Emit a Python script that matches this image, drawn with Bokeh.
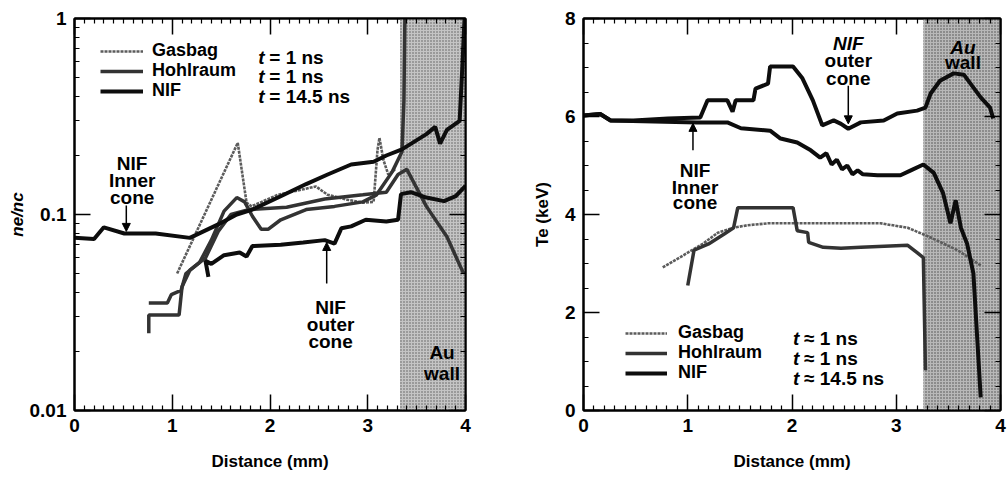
from bokeh.plotting import figure
from bokeh.layouts import row
from bokeh.models import (FixedTicker, LinearAxis, LogAxis, BoxAnnotation, Label,
                          Arrow, NormalHead, CustomJSTickFormatter, Legend, LegendItem)
from bokeh.embed import file_html
from bokeh.resources import INLINE

FONT = "Liberation Sans"

# ---------------- data: left panel (n_e / n_c) ----------------
ne_inner_x = [0.0, 0.2, 0.3, 0.51, 0.83, 1.18, 1.47, 1.66, 1.82, 2.11, 2.37, 2.59, 2.83, 3.06, 3.19, 3.35, 3.6, 3.69, 3.74, 3.81, 3.94, 3.97, 3.99]
ne_inner_y = [0.076, 0.075, 0.086, 0.080, 0.080, 0.076, 0.089, 0.100, 0.106, 0.124, 0.143, 0.160, 0.180, 0.186, 0.200, 0.215, 0.257, 0.280, 0.230, 0.270, 0.300, 0.600, 1.0]

ne_outer_x = [1.37, 1.34, 1.40, 1.53, 1.69, 1.76, 1.82, 2.11, 2.34, 2.56, 2.66, 2.73, 2.83, 2.98, 3.19, 3.31, 3.34, 3.44, 3.6, 3.78, 3.9, 4.0]
ne_outer_y = [0.048, 0.058, 0.056, 0.062, 0.064, 0.061, 0.069, 0.070, 0.072, 0.074, 0.071, 0.085, 0.087, 0.094, 0.092, 0.094, 0.127, 0.130, 0.122, 0.117, 0.124, 0.14]

ne_gas_x = [1.05, 1.67, 1.76, 1.81, 2.08, 2.47, 2.59, 2.79, 2.95, 3.06, 3.10, 3.12, 3.16, 3.21, 3.28]
ne_gas_y = [0.050, 0.232, 0.115, 0.110, 0.126, 0.139, 0.126, 0.119, 0.115, 0.116, 0.214, 0.246, 0.190, 0.160, 0.170]

ne_hohl_a_x = [0.76, 0.95, 0.99, 1.09, 1.14, 1.28, 1.40, 1.53, 1.66, 1.74, 1.82, 1.91, 1.98, 2.11, 2.37, 2.66, 2.95, 3.09, 3.25, 3.35, 3.37, 3.38]
ne_hohl_a_y = [0.0354, 0.0354, 0.039, 0.041, 0.050, 0.057, 0.074, 0.104, 0.122, 0.116, 0.098, 0.084, 0.084, 0.094, 0.106, 0.110, 0.116, 0.126, 0.165, 0.209, 0.38, 1.0]

ne_hohl_b_x = [0.76, 0.76, 1.07, 1.10, 1.18, 1.34, 1.47, 1.60, 1.79, 2.17, 2.56, 2.95, 3.19, 3.31, 3.40, 3.60, 3.81, 3.98]
ne_hohl_b_y = [0.0248, 0.0307, 0.0307, 0.0428, 0.052, 0.060, 0.082, 0.100, 0.106, 0.109, 0.120, 0.126, 0.130, 0.160, 0.170, 0.110, 0.077, 0.050]

# ---------------- data: right panel (T_e) ----------------
te_outer_x = [0.0, 0.16, 0.26, 0.48, 0.81, 1.12, 1.19, 1.38, 1.43, 1.46, 1.63, 1.65, 1.77, 1.79, 2.01, 2.10, 2.20, 2.29, 2.40, 2.47, 2.54, 2.66, 2.88, 3.01, 3.20, 3.28, 3.33, 3.42, 3.55, 3.65, 3.81, 3.90, 3.93]
te_outer_y = [6.02, 6.05, 5.92, 5.92, 5.96, 5.98, 6.33, 6.33, 6.10, 6.33, 6.33, 6.57, 6.67, 7.02, 7.02, 6.78, 6.33, 5.82, 5.92, 5.85, 5.75, 5.88, 5.92, 6.06, 6.12, 6.18, 6.47, 6.73, 6.88, 6.85, 6.39, 6.18, 5.96]

te_inner_x = [0.0, 0.16, 0.26, 1.09, 1.38, 1.51, 1.79, 1.89, 2.05, 2.18, 2.27, 2.33, 2.38, 2.43, 2.48, 2.53, 2.58, 2.63, 2.68, 2.82, 3.04, 3.14, 3.26, 3.36, 3.45, 3.52, 3.57, 3.62, 3.68, 3.74, 3.81]
te_inner_y = [6.02, 6.05, 5.92, 5.88, 5.88, 5.76, 5.71, 5.55, 5.47, 5.31, 5.16, 5.25, 5.02, 5.12, 4.92, 5.00, 4.82, 4.90, 4.82, 4.80, 4.80, 4.90, 5.02, 4.85, 4.43, 3.82, 4.29, 3.73, 3.40, 2.80, 0.27]

te_hohl_x = [1.00, 1.06, 1.20, 1.35, 1.44, 1.48, 2.01, 2.05, 2.15, 2.16, 2.30, 2.47, 2.66, 3.11, 3.20, 3.26, 3.28]
te_hohl_y = [2.55, 3.27, 3.40, 3.60, 3.73, 4.14, 4.14, 3.67, 3.63, 3.43, 3.33, 3.31, 3.33, 3.37, 3.22, 3.12, 0.82]

te_gas_x = [0.76, 1.00, 1.15, 1.29, 1.44, 1.57, 1.77, 2.01, 2.66, 2.85, 3.11, 3.33, 3.59, 3.81]
te_gas_y = [2.92, 3.22, 3.41, 3.63, 3.73, 3.78, 3.82, 3.82, 3.82, 3.82, 3.73, 3.53, 3.27, 2.96]

wall_left_ne = 3.33
wall_left_te = 3.26

x_major = [0, 1, 2, 3, 4]
x_minor = [i / 10 for i in range(41) if i % 10]
ne_major = [0.01, 0.1, 1]
ne_minor = [m * d for d in (0.01, 0.1) for m in range(2, 10)]
te_major = [0, 2, 4, 6, 8]
te_minor = [i / 2 for i in range(17) if i % 4]

series_names = ["Gasbag", "Hohlraum", "NIF"]
series_times = ["= 1 ns", "= 1 ns", "= 14.5 ns"]
series_times_te = ["\u2248 1 ns", "\u2248 1 ns", "\u2248 14.5 ns"]

GAS = dict(line_color="#5c5c5c", line_width=2.6, line_dash="3 1")
HOH = dict(line_color="#333333", line_width=3.5)
NIF = dict(line_color="#0d0d0d", line_width=4)


def base(log, y_range, fw, mbl, mbr):
    kw = dict(x_range=(0, 4), y_range=y_range, frame_width=fw, frame_height=392,
              min_border_left=mbl, min_border_right=mbr, min_border_top=18,
              min_border_bottom=68, output_backend="svg", toolbar_location=None,
              background_fill_color="white", border_fill_color="white")
    if log:
        kw["y_axis_type"] = "log"
    p = figure(**kw)
    p.grid.grid_line_color = None
    p.outline_line_color = "black"
    p.outline_line_width = 2
    return p


def style_axis(ax, ticker, labels=True):
    ax.ticker = ticker
    ax.axis_line_width = 2
    ax.axis_line_color = "black"
    ax.major_tick_in = 16
    ax.major_tick_out = 0
    ax.minor_tick_in = 5
    ax.minor_tick_out = 0
    ax.major_tick_line_width = 1.5
    ax.minor_tick_line_width = 1.2
    ax.major_label_text_font = FONT
    ax.major_label_text_font_style = "bold"
    ax.major_label_text_color = "black"
    ax.major_label_text_font_size = "19px"
    ax.major_label_standoff = 8
    if not labels:
        ax.major_label_text_font_size = "2px"
        ax.major_label_text_alpha = 0
        ax.major_label_standoff = 0


def lab(p, x, y, text, size="19px", style="bold", align="center", x_offset=0):
    p.add_layout(Label(x=x, y=y, x_offset=x_offset, text=text, text_font=FONT,
                       text_font_style=style, text_font_size=size, text_align=align,
                       text_baseline="alphabetic", text_color="black"))


def arrow(p, x, y0, y1):
    p.add_layout(Arrow(end=NormalHead(size=8, fill_color="black", line_color="black"),
                       x_start=x, y_start=y0, x_end=x, y_end=y1,
                       line_width=1.5, line_color="black"))


def legend_row(p, name, renderer, loc, gw, standoff):
    p.add_layout(Legend(items=[LegendItem(label=name, renderers=[renderer])],
                        location=loc, glyph_width=gw, glyph_height=18, label_height=18,
                        label_standoff=standoff, spacing=0, padding=0, margin=0,
                        label_text_font=FONT, label_text_font_style="bold",
                        label_text_font_size="18px", label_text_color="black",
                        background_fill_alpha=0, border_line_color=None), "center")


xt = FixedTicker(ticks=x_major, minor_ticks=x_minor)

# ================= left panel =================
p1 = base(True, (0.01, 1), 391, 74, 33)
p1.add_layout(BoxAnnotation(left=wall_left_ne, right=4, fill_color="#c4c4c4", fill_alpha=1,
                            hatch_pattern="dot", hatch_color="#5a5a5a", hatch_scale=3,
                            hatch_weight=1, line_color=None, level="underlay"))
yt1 = FixedTicker(ticks=ne_major, minor_ticks=ne_minor)
xb1 = p1.below[0]
yl1 = p1.left[0]
style_axis(xb1, xt)
style_axis(yl1, yt1)
yl1.formatter = CustomJSTickFormatter(code="return tick.toString()")
xa1 = LinearAxis()
yr1 = LogAxis()
style_axis(xa1, xt, labels=False)
style_axis(yr1, yt1, labels=False)
p1.add_layout(xa1, "above")
p1.add_layout(yr1, "right")

for ax in (xb1, yl1):
    ax.axis_label_text_font = FONT
    ax.axis_label_text_font_size = "17px"
    ax.axis_label_text_color = "black"
xb1.axis_label = "Distance (mm)"
xb1.axis_label_text_font_style = "bold"
xb1.axis_label_standoff = 17
yl1.axis_label = "ne/nc"
yl1.axis_label_text_font_style = "bold italic"
yl1.axis_label_standoff = 0

r_gas1 = p1.line(ne_gas_x, ne_gas_y, **GAS)
r_hoa = p1.line(ne_hohl_a_x, ne_hohl_a_y, **HOH)
r_hob = p1.line(ne_hohl_b_x, ne_hohl_b_y, **HOH)
r_out1 = p1.line(ne_outer_x, ne_outer_y, **NIF)
r_inn1 = p1.line(ne_inner_x, ne_inner_y, **NIF)

for name, r, ly in zip(series_names, [r_gas1, r_hoa, r_inn1], [349, 329, 309]):
    legend_row(p1, name, r, (26, ly), 43, 9)
for yv, t in zip([0.63, 0.503, 0.398], series_times):
    lab(p1, 1.88, yv, "t", size="19px", style="bold italic", align="left")
    lab(p1, 1.88, yv, t, size="19px", align="left", x_offset=11)

lab(p1, 0.59, 0.182, "NIF")
lab(p1, 0.59, 0.149, "Inner")
lab(p1, 0.59, 0.122, "cone")
arrow(p1, 0.53, 0.111, 0.082)
lab(p1, 2.62, 0.0336, "NIF")
lab(p1, 2.62, 0.0275, "outer")
lab(p1, 2.62, 0.0225, "cone")
arrow(p1, 2.58, 0.0445, 0.072)
lab(p1, 3.76, 0.0198, "Au")
lab(p1, 3.76, 0.0154, "wall")

# ================= right panel =================
p2 = base(False, (0, 8), 417, 85, 7)
p2.add_layout(BoxAnnotation(left=wall_left_te, right=4, fill_color="#b8b8b8", fill_alpha=1,
                            hatch_pattern="dot", hatch_color="#4a4a4a", hatch_scale=3,
                            hatch_weight=1, line_color=None, level="underlay"))
yt2 = FixedTicker(ticks=te_major, minor_ticks=te_minor)
xb2 = p2.below[0]
yl2 = p2.left[0]
style_axis(xb2, xt)
style_axis(yl2, yt2)
xa2 = LinearAxis()
yr2 = LinearAxis()
style_axis(xa2, xt, labels=False)
style_axis(yr2, yt2, labels=False)
p2.add_layout(xa2, "above")
p2.add_layout(yr2, "right")
for ax in (xb2, yl2):
    ax.axis_label_text_font = FONT
    ax.axis_label_text_font_size = "17px"
    ax.axis_label_text_font_style = "bold"
    ax.axis_label_text_color = "black"
xb2.axis_label = "Distance (mm)"
xb2.axis_label_standoff = 17
yl2.axis_label = "Te (keV)"
yl2.axis_label_standoff = 10

r_gas2 = p2.line(te_gas_x, te_gas_y, **GAS)
r_hoh2 = p2.line(te_hohl_x, te_hohl_y, **HOH)
r_out2 = p2.line(te_outer_x, te_outer_y, **NIF)
r_inn2 = p2.line(te_inner_x, te_inner_y, **NIF)

for name, r, ly in zip(series_names, [r_gas2, r_hoh2, r_inn2], [67, 47, 27]):
    legend_row(p2, name, r, (42, ly), 42, 11)
for yv, t in zip([1.47, 1.06, 0.65], series_times_te):
    lab(p2, 2.01, yv, "t", size="19px", style="bold italic", align="left")
    lab(p2, 2.01, yv, t, size="19px", align="left", x_offset=11)

lab(p2, 2.54, 7.49, "NIF", style="bold italic")
lab(p2, 2.54, 7.14, "outer")
lab(p2, 2.54, 6.78, "cone")
arrow(p2, 2.54, 6.63, 5.85)
lab(p2, 1.07, 4.90, "NIF")
lab(p2, 1.07, 4.55, "Inner")
lab(p2, 1.07, 4.24, "cone")
arrow(p2, 1.05, 5.31, 5.86)
lab(p2, 3.64, 7.41, "Au", style="bold italic")
lab(p2, 3.64, 7.10, "wall")

layout = row(p1, p2)
open("out.html", "w").write(file_html(layout, INLINE))
